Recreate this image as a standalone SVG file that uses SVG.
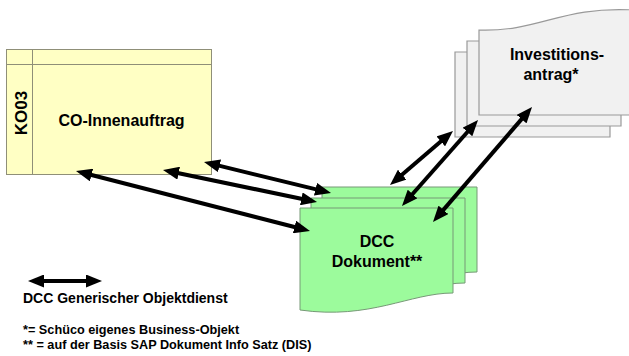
<svg xmlns="http://www.w3.org/2000/svg" width="629" height="356" viewBox="0 0 629 356">
<style>
  text { font-family: "Liberation Sans", Arial, sans-serif; font-weight: bold; fill: #000; }
  .t16 { font-size: 16px; }
  .leg1 { font-size: 14px; }
  .leg { font-size: 12.7px; }
  .yel { fill: #ffffc4; stroke: #8f8f78; stroke-width: 1; }
  .grn { fill: #9cfb9c; stroke: #779977; stroke-width: 1; }
  .gry { fill: #f1f1f1; stroke: #999999; stroke-width: 1.2; }
  .arr { stroke: #000; stroke-width: 4; fill: none; marker-start: url(#head); marker-end: url(#head); }
</style>
<defs>
  <marker id="head" markerUnits="userSpaceOnUse" viewBox="0 0 16 13" markerWidth="16" markerHeight="13" refX="6" refY="6.5" orient="auto-start-reverse">
    <path d="M0,0 L16,6.5 L0,13 Z" fill="#000"/>
  </marker>
</defs>

<g id="investitionsantrag">
  <path class="gry" d="M455,52 L610,52 L610,137 L455,137 Z"/>
  <path class="gry" d="M467,41 L621,41 L621,126 L467,126 Z"/>
  <path class="gry" d="M479,30 C540,32 560,6 634,10 L634,115 L479,115 Z"/>
  <text class="t16" x="557" y="60" text-anchor="middle">Investitions-</text>
  <text class="t16" x="551" y="80" text-anchor="middle">antrag*</text>
</g>

<g id="dcc-dokument">
  <path class="grn" d="M322,187 L477,187 L477,272 C434,272 394,299 322,289 Z"/>
  <path class="grn" d="M311,198 L465,198 L465,283 C422,283 382,310 311,300 Z"/>
  <path class="grn" d="M300,208 L453,208 L453,293 C410,293 370,320 300,310 Z"/>
  <text class="t16" x="377" y="247" text-anchor="middle">DCC</text>
  <text class="t16" x="377" y="267" text-anchor="middle">Dokument**</text>
</g>

<g id="co-innenauftrag">
  <rect class="yel" x="6.5" y="49.5" width="205" height="125"/>
  <line class="yel" x1="32.5" y1="49.5" x2="32.5" y2="174.5"/>
  <line class="yel" x1="6.5" y1="64.5" x2="211.5" y2="64.5"/>
  <text x="27" y="113" font-size="17" text-anchor="middle" transform="rotate(-90 27 113)">KO03</text>
  <text class="t16" x="121.5" y="126" text-anchor="middle">CO-Innenauftrag</text>
</g>

<g id="connectors">
  <line class="arr" x1="213.7" y1="164.4" x2="321.3" y2="190.6"/>
  <line class="arr" x1="172.8" y1="172" x2="307.2" y2="200"/>
  <line class="arr" x1="85.7" y1="173.5" x2="300.3" y2="228.5"/>
  <line class="arr" x1="397.6" y1="178.5" x2="445.4" y2="137.5"/>
  <line class="arr" x1="408.6" y1="198.5" x2="471.4" y2="127.5"/>
  <line class="arr" x1="439.5" y1="214.4" x2="525.5" y2="114.6"/>
</g>

<g id="legend">
  <line class="arr" x1="38" y1="281" x2="92" y2="281"/>
  <text class="leg1" x="23" y="303">DCC Generischer Objektdienst</text>
  <text class="leg" x="23" y="334">*= Schüco eigenes Business-Objekt</text>
  <text class="leg" x="23" y="349">** = auf der Basis SAP Dokument Info Satz (DIS)</text>
</g>
</svg>
